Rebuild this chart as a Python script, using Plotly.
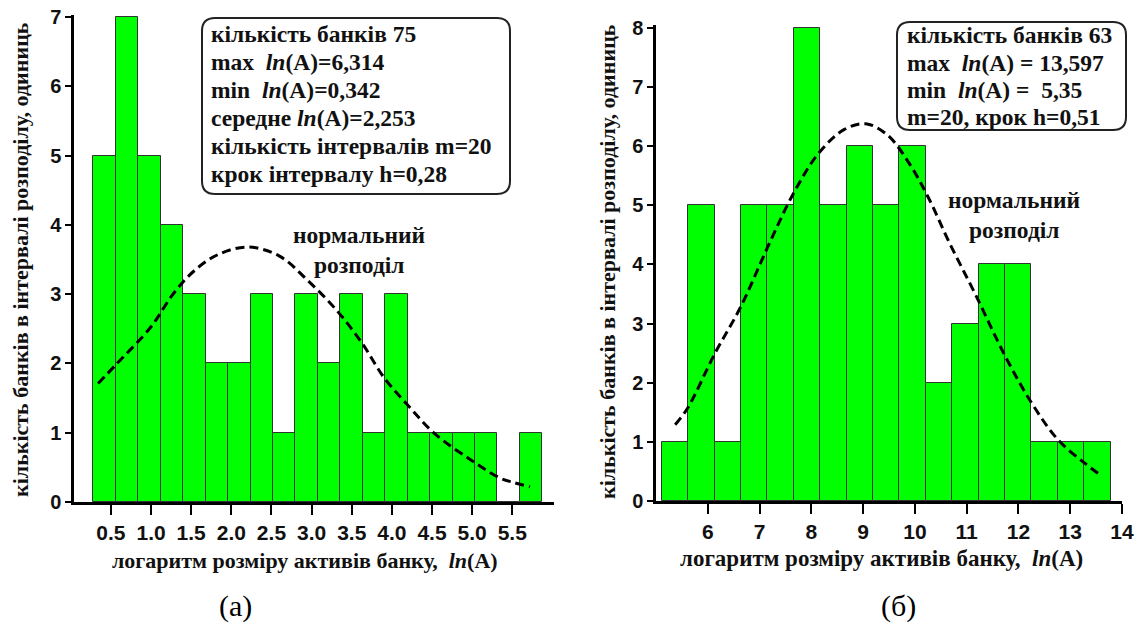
import plotly.graph_objects as go

W, H = 1141, 635
OFF = 0  # page body margin is removed by the post script below

# ---------- data ----------
# (a) left histogram
a_centers = [0.421, 0.701, 0.980, 1.260, 1.540, 1.819, 2.099, 2.379, 2.658, 2.938,
             3.218, 3.497, 3.777, 4.057, 4.336, 4.616, 4.896, 5.175, 5.455, 5.735]
a_counts = [5, 7, 5, 4, 3, 2, 2, 3, 1, 3, 2, 3, 1, 3, 1, 1, 1, 1, 0, 1]
a_width = 0.2797
a_curve_x = [0.34, 0.56, 1.00, 1.28, 1.55, 1.85, 2.21, 2.60, 2.95, 3.31, 3.63, 3.90,
             4.22, 4.53, 4.98, 5.34, 5.52, 5.72]
a_curve_y = [1.71, 1.98, 2.53, 3.01, 3.35, 3.58, 3.68, 3.55, 3.20, 2.77, 2.29, 1.80,
             1.37, 0.99, 0.61, 0.35, 0.28, 0.22]
a_xticks = [0.5, 1.0, 1.5, 2.0, 2.5, 3.0, 3.5, 4.0, 4.5, 5.0, 5.5]
a_xticklabels = ["0.5", "1.0", "1.5", "2.0", "2.5", "3.0", "3.5", "4.0", "4.5", "5.0", "5.5"]
a_yticks = [0, 1, 2, 3, 4, 5, 6, 7]

# (б) right histogram
b_centers = [5.365, 5.875, 6.385, 6.895, 7.405, 7.915, 8.425, 8.935, 9.445, 9.955,
             10.465, 10.975, 11.485, 11.995, 12.505, 13.015, 13.525]
b_counts = [1, 5, 1, 5, 5, 8, 5, 6, 5, 6, 2, 3, 4, 4, 1, 1, 1]
b_width = 0.51
b_curve_x = [5.37, 5.61, 6.14, 6.64, 7.16, 7.66, 8.14, 8.63, 9.05, 9.47, 9.89, 10.25,
             10.67, 11.16, 11.75, 12.26, 12.77, 13.28, 13.58]
b_curve_y = [1.29, 1.57, 2.50, 3.29, 4.30, 5.21, 5.88, 6.28, 6.38, 6.19, 5.71, 5.15,
             4.36, 3.51, 2.44, 1.65, 1.03, 0.64, 0.44]
b_xticks = [6, 7, 8, 9, 10, 11, 12, 13, 14]
b_yticks = [0, 1, 2, 3, 4, 5, 6, 7, 8]

a_box_lines = ["кількість банків 75",
               "max\u00a0\u00a0<i>ln</i>(A)=6,314",
               "min\u00a0\u00a0<i>ln</i>(A)=0,342",
               "середне <i>ln</i>(A)=2,253",
               "кількість інтервалів m=20",
               "крок інтервалу h=0,28"]
b_box_lines = ["кількість банків 63",
               "max\u00a0\u00a0<i>ln</i>(A) = 13,597",
               "min\u00a0\u00a0<i>ln</i>(A) =\u00a0\u00a05,35",
               "m=20, крок h=0,51"]
curve_label_lines = ["нормальний", "розподіл"]
x_title = "логаритм розміру активів банку,\u00a0\u00a0<i>ln</i>(A)"
y_title = "кількість банків в інтервалі розподілу, одиниць"

# ---------- styling ----------
GREEN = "#00FF00"
SERIF = "Liberation Serif, Times New Roman, serif"
SANS = "Liberation Sans, Arial, sans-serif"


def px(x):
    return (x - OFF) / W


def py(y):
    return 1 - (y - OFF) / H


fig = go.Figure()

fig.add_trace(go.Bar(x=a_centers, y=a_counts, width=a_width, xaxis="x", yaxis="y",
                     marker=dict(color=GREEN, line=dict(color="#333333", width=1)),
                     showlegend=False))
fig.add_trace(go.Scatter(x=a_curve_x, y=a_curve_y, xaxis="x", yaxis="y", mode="lines",
                         line=dict(color="black", width=3, dash="9px,5px", shape="spline"),
                         showlegend=False))
fig.add_trace(go.Bar(x=b_centers, y=b_counts, width=b_width, xaxis="x2", yaxis="y2",
                     marker=dict(color=GREEN, line=dict(color="#333333", width=1)),
                     showlegend=False))
fig.add_trace(go.Scatter(x=b_curve_x, y=b_curve_y, xaxis="x2", yaxis="y2", mode="lines",
                         line=dict(color="black", width=3, dash="9px,5px", shape="spline"),
                         showlegend=False))

xtickfont = dict(family=SANS, size=21, color="#111111", weight="bold")
ytickfont = dict(family=SANS, size=20, color="#111111", weight="bold")
axis_common = dict(showgrid=False, zeroline=False, showline=True, linecolor="black",
                   linewidth=2.5, ticks="outside", tickwidth=2, tickcolor="black",
                   mirror=False, fixedrange=True, automargin=False,
                   ticklabeloverflow="allow")

fig.update_layout(
    width=W, height=H, autosize=False,
    margin=dict(l=0, r=0, t=0, b=0),
    paper_bgcolor="white", plot_bgcolor="white",
    bargap=0,
    xaxis=dict(domain=[px(74), px(554)], range=[0.04, 6.02], tickvals=a_xticks,
               ticktext=a_xticklabels, ticklen=10, anchor="y", tickfont=xtickfont,
               **axis_common),
    yaxis=dict(domain=[py(502), py(15)], range=[0, 7.03], tickvals=a_yticks, ticklen=6,
               anchor="x", tickfont=ytickfont, **axis_common),
    xaxis2=dict(domain=[px(656), px(1122)], range=[5.0, 14.0], tickvals=b_xticks,
                ticklen=10, anchor="y2", tickfont=xtickfont, **axis_common),
    yaxis2=dict(domain=[py(501), py(25)], range=[0, 8.05], tickvals=b_yticks, ticklen=6,
                anchor="x2", tickfont=ytickfont, **axis_common),
)


def rounded_rect(x0, y0, x1, y1, r):
    # pixel coordinates -> paper path with rounded corners
    rx, ry = r / W, r / H
    X0, X1 = px(x0), px(x1)
    Y0, Y1 = py(y0), py(y1)  # Y0 top, Y1 bottom
    return (f"M {X0+rx},{Y0} L {X1-rx},{Y0} Q {X1},{Y0} {X1},{Y0-ry} "
            f"L {X1},{Y1+ry} Q {X1},{Y1} {X1-rx},{Y1} L {X0+rx},{Y1} "
            f"Q {X0},{Y1} {X0},{Y1+ry} L {X0},{Y0-ry} Q {X0},{Y0} {X0+rx},{Y0} Z")


fig.add_shape(type="path", xref="paper", yref="paper",
              path=rounded_rect(202, 18, 510, 194, 13),
              line=dict(color="#222222", width=2), fillcolor="rgba(255,255,255,0)")
fig.add_shape(type="path", xref="paper", yref="paper",
              path=rounded_rect(897, 22, 1126, 130, 13),
              line=dict(color="#222222", width=2), fillcolor="rgba(255,255,255,0)")

boxfont = dict(family=SERIF, size=23.5, color="#111111", weight="bold")
for line, ypix in zip(a_box_lines, [34, 62, 90, 118, 146, 174]):
    fig.add_annotation(x=px(209), y=py(ypix), xref="paper", yref="paper", xanchor="left",
                       yanchor="middle", align="left", showarrow=False,
                       text=line, font=boxfont)
for line, ypix in zip(b_box_lines, [35, 63, 90, 117]):
    fig.add_annotation(x=px(905), y=py(ypix), xref="paper", yref="paper", xanchor="left",
                       yanchor="middle", align="left", showarrow=False,
                       text=line, font=boxfont)

for line, ypix in zip(curve_label_lines, [235, 265]):
    fig.add_annotation(x=px(359), y=py(ypix), xref="paper", yref="paper", xanchor="center",
                       yanchor="middle", showarrow=False, text=line, font=boxfont)
for line, ypix in zip(curve_label_lines, [200, 230]):
    fig.add_annotation(x=px(1014), y=py(ypix), xref="paper", yref="paper", xanchor="center",
                       yanchor="middle", showarrow=False, text=line, font=boxfont)

fig.add_annotation(x=px(305), y=py(560), xref="paper", yref="paper", xanchor="center",
                   yanchor="middle", showarrow=False, text=x_title,
                   font=dict(family=SERIF, size=22, color="#111111", weight="bold"))
fig.add_annotation(x=px(881), y=py(558), xref="paper", yref="paper", xanchor="center",
                   yanchor="middle", showarrow=False, text=x_title,
                   font=dict(family=SERIF, size=23, color="#111111", weight="bold"))
ytitlefont = dict(family=SERIF, size=22, color="#111111", weight="bold")
fig.add_annotation(x=px(21), y=py(260), xref="paper", yref="paper", xanchor="center",
                   yanchor="middle", showarrow=False, textangle=-90, text=y_title,
                   font=ytitlefont)
fig.add_annotation(x=px(607), y=py(262), xref="paper", yref="paper", xanchor="center",
                   yanchor="middle", showarrow=False, textangle=-90, text=y_title,
                   font=ytitlefont)

capfont = dict(family=SERIF, size=30, color="black")
fig.add_annotation(x=px(236), y=py(606), xref="paper", yref="paper", xanchor="center",
                   yanchor="middle", showarrow=False, text="(а)", font=capfont)
fig.add_annotation(x=px(898), y=py(606), xref="paper", yref="paper", xanchor="center",
                   yanchor="middle", showarrow=False, text="(б)", font=capfont)

fig.write_html("out.html", config={"displayModeBar": False},
               post_script="document.body.style.margin='0';")
